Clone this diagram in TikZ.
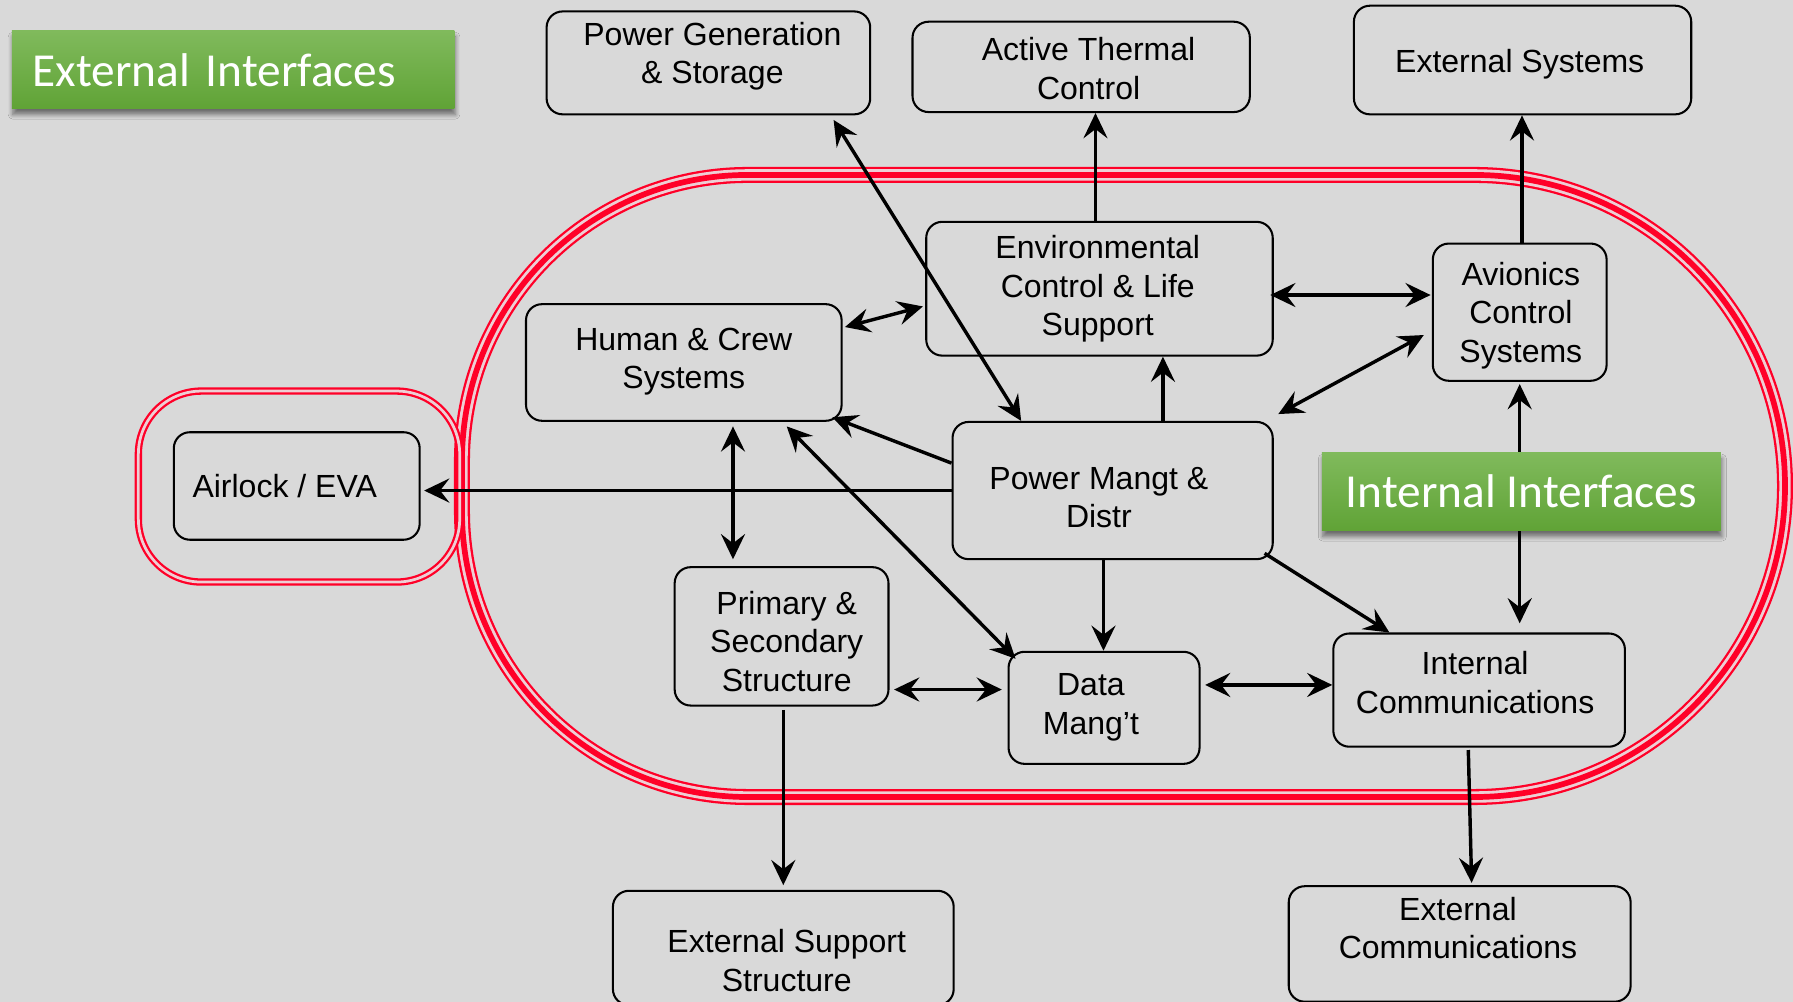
\documentclass[tikz,border=0pt]{standalone}
\usepackage{fontspec}
\setmainfont{Liberation Sans}
\newfontfamily\calib{Carlito}
\usetikzlibrary{arrows.meta,shadows.blur}
\definecolor{bg}{RGB}{217,217,217}
\definecolor{rred}{RGB}{255,0,40}
\definecolor{rgap}{RGB}{238,206,212}
\definecolor{gtop}{RGB}{128,186,92}
\definecolor{gbot}{RGB}{96,163,54}
\tikzset{
  box/.style={draw=black, line width=0.9pt, rounded corners=7pt, inner sep=0pt},
  txt/.style={align=center, font=\fontsize{14}{16.8}\selectfont, inner sep=0pt},
  tipA/.tip={Stealth[length=11pt,width=10.5pt,inset=4pt]},
  conn/.style={line width=1.5pt, -tipA},
  dconn/.style={line width=1.5pt, tipA-tipA},
  tag/.style={top color=gtop, bottom color=gbot, text=white,
    font=\calib\fontsize{20.7}{24}\selectfont, minimum height=34pt, inner ysep=0pt,
    blur shadow={shadow xshift=0.4pt, shadow yshift=-2.6pt, shadow blur radius=2pt, shadow opacity=50, shadow blur steps=6}},
}
\begin{document}
\begin{tikzpicture}[x=0.5pt,y=-0.5pt]
\useasboundingbox (0,0) rectangle (1568,876);
\fill[bg] (0,0) rectangle (1568,876);

% big internal boundary (triple red line)
\foreach \w/\c in {7pt/rred, 5pt/rgap, 2.5pt/rred}{
  \draw[\c, line width=\w] (654,153) -- (1289,153) arc[start angle=90, end angle=-90, radius=136pt]
    -- (654,697) arc[start angle=270, end angle=180, radius=125pt]
    -- (404,403) arc[start angle=180, end angle=90, radius=125pt] -- cycle;
}
% airlock ring
\draw[rred, line width=1pt, double=rgap, double distance=1.2pt, rounded corners=27.5pt] (121,342) rectangle (402,509);

% boxes
\node[box, minimum width=141.5pt, minimum height=45pt] (pgs) at (619.5,55) {};
\node[txt] (t-pgs) at (623,49) {Power Generation\\\& Storage};
\node[box, minimum width=147.5pt, minimum height=39.5pt] (atc) at (945.5,58.5) {};
\node[txt] (t-atc) at (952,60) {Active Thermal\\Control};
\node[box, minimum width=147.5pt, minimum height=47.5pt] (exs) at (1331.5,52.5) {};
\node[txt] (t-exs) at (1329,56) {External Systems};
\node[box, minimum width=151.5pt, minimum height=58.5pt] (ecls) at (961.5,252.5) {};
\node[txt] (t-ecls) at (960,252.5) {Environmental\\Control \& Life\\Support};
\node[box, minimum width=76pt, minimum height=60pt] (acs) at (1329,273) {};
\node[txt] (t-acs) at (1330,276) {Avionics\\Control\\Systems};
\node[box, minimum width=138pt, minimum height=51pt] (hcs) at (598,317) {};
\node[txt] (t-hcs) at (598,316.5) {Human \& Crew\\Systems};
\node[box, minimum width=107.5pt, minimum height=47pt] (air) at (259.5,425) {};
\node[txt] (t-air) at (249,425) {Airlock / EVA};
\node[box, minimum width=140pt, minimum height=60pt] (pmd) at (973,429) {};
\node[txt] (t-pmd) at (961,435) {Power Mangt \&\\Distr};
\node[box, minimum width=93.5pt, minimum height=60.5pt] (pss) at (683.5,556.5) {};
\node[txt] (t-pss) at (688,561) {Primary \&\\Secondary\\Structure};
\node[box, minimum width=83.5pt, minimum height=49pt] (dm) at (965.5,619) {};
\node[txt] (t-dm) at (954,618.5) {Data\\Mang’t};
\node[box, minimum width=127.5pt, minimum height=49.5pt] (ic) at (1293.5,603.5) {};
\node[txt] (t-ic) at (1290,597) {Internal\\Communications};
\node[box, minimum width=149pt, minimum height=50pt] (ess) at (685,829) {};
\node[txt] (t-ess) at (688,840) {External Support\\Structure};
\node[box, minimum width=149.5pt, minimum height=50.5pt] (ec) at (1276.5,825.5) {};
\node[txt] (t-ec) at (1275,811.5) {External\\Communications};

% connectors
\coordinate (a1) at ([xshift=54.75pt,yshift=-2pt]pgs.south);
\coordinate (a2) at ([xshift=-40pt]pmd.north);
\draw[dconn] (a1) -- (a2);

\coordinate (b1) at ([xshift=-1.75pt]ecls.north);
\draw[conn] (b1) -- (b1 |- atc.south);

\coordinate (c1) at ([xshift=1pt]acs.north);
\draw[conn] (c1) -- (c1 |- exs.south);

\draw[dconn] ([xshift=1pt,yshift=15.5pt]hcs.east) -- ([xshift=-1pt,yshift=-7.75pt]ecls.west);

\coordinate (e1) at ([yshift=-2.75pt]ecls.east);
\draw[dconn, shorten <=-1.5pt, shorten >=0.5pt] (e1) -- (e1 -| acs.west);

\coordinate (f1) at ([xshift=22pt]pmd.north);
\draw[conn] (f1) -- (f1 |- ecls.south);

\draw[dconn] ([xshift=-3.5pt,yshift=-10pt]acs.west) -- ([xshift=2pt,yshift=3pt]pmd.north east);

\draw[conn] ([yshift=12pt]pmd.west) -- ([xshift=-4.5pt,yshift=2pt]hcs.south east);

\draw[dconn] ([xshift=3.5pt,yshift=-3.5pt]dm.north west) -- ([xshift=45pt,yshift=-2pt]hcs.south);

\coordinate (j1) at ([xshift=21.5pt]hcs.south);
\draw[dconn, shorten <=2pt, shorten >=3pt] (j1) -- (j1 |- pss.north);

\draw[conn, shorten >=1.5pt] (pmd.west) -- (pmd.west -| air.east);

\coordinate (l1) at ([xshift=-4pt]pmd.south);
\draw[conn] (l1) -- (l1 |- dm.north);

\draw[conn] ([xshift=-4pt,yshift=3pt]pmd.south east) -- ([xshift=-39.25pt]ic.north);

\coordinate (n1) at ([yshift=-23.25pt]pss.east);
\draw[dconn, shorten <=2pt, shorten >=2.5pt] (n1) -- (n1 -| dm.west);

\coordinate (o1) at ([yshift=10pt]dm.east);
\draw[dconn, shorten <=2pt] (o1) -- (o1 -| ic.west);

\draw[dconn, shorten <=1pt, shorten >=4pt] (acs.south) -- (acs.south |- ic.north);

\coordinate (q1) at ([xshift=0.75pt]pss.south);
\draw[conn, shorten <=1.5pt, shorten >=2pt] (q1) -- (q1 |- ess.north);

\draw[conn, shorten <=1pt, shorten >=1pt] ([xshift=-4.75pt]ic.south) -- ([xshift=5.25pt]ec.north);

% green tags
\node[tag, anchor=west, text width=175.5pt, align=left, inner xsep=9pt] (ext) at (10,61) {External Interfaces};
\node[tag, minimum width=174.5pt, inner xsep=0pt] (int) at (1330.5,430) {Internal Interfaces};
\end{tikzpicture}
\end{document}
